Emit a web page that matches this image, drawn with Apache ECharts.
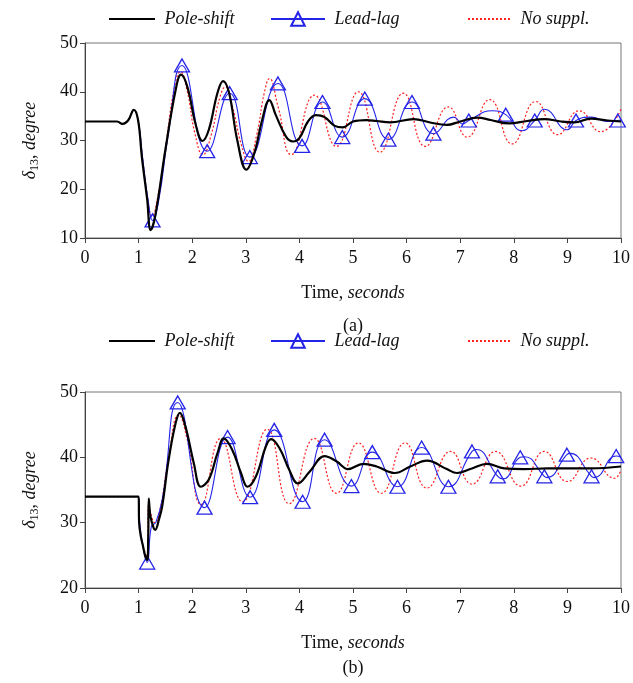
<!DOCTYPE html>
<html><head><meta charset="utf-8">
<script src="https://cdn.jsdelivr.net/npm/echarts@6.0.0/dist/echarts.min.js"></script>
<style>html,body{margin:0;padding:0;background:#fff}#c{width:633px;height:683px}</style>
</head><body><div id="c"></div>
<script>
// ---------- data ----------
const timeRange = [0, 10];
const yRangeA = [10, 50];
const yRangeB = [20, 50];
const seriesNames = ['Pole-shift', 'Lead-lag', 'No suppl.'];
const panelLabels = ['(a)', '(b)'];

// (a) Pole-shift
const poleShiftA = [[0,33.9],[0.6,33.9],[0.7,33.4],[0.81,34.2],[0.91,36.3],[0.99,34.2],[1.06,26.7],[1.16,17.9],[1.225,11.6],[1.31,14.5],[1.5,28.1],[1.69,40.3],[1.79,43.5],[1.91,41],[2.06,33.5],[2.19,29.9],[2.31,32.2],[2.47,39.7],[2.575,42.2],[2.69,39.7],[2.84,30.1],[3.01,24],[3.16,27.4],[3.3,34],[3.44,38.3],[3.56,35.2],[3.75,30.8],[3.88,29.8],[4.0,30.5],[4.16,33.9],[4.31,35.2],[4.47,34.8],[4.66,33],[4.81,32.7],[5.0,33.9],[5.25,34.2],[5.44,34],[5.69,33.7],[6.13,34.4],[6.44,33.7],[6.75,33.2],[7.0,33.9],[7.32,34.7],[7.57,34.2],[7.91,33.5],[8.25,34],[8.57,34.4],[8.88,33.9],[9.13,33.7],[9.44,34.5],[9.75,34.1],[10,33.9]];
// (a) Lead-lag curve (without marker points) and marker points
const leadLagA = [[0,33.9],[0.6,33.9],[0.7,33.4],[0.81,34.2],[0.91,36.3],[0.99,34.2],[1.08,26],[1.18,17.5],[1.38,18],[1.55,31],[6.88,34.8],[7.05,33.4],[7.6,36.1],[8.15,32.0],[8.57,36.4],[9.0,32.2],[9.44,34.8],[9.75,33.9],[10,34.2]];
const leadLagMarksA = [[1.26,13.6],[1.81,45.4],[2.28,27.8],[2.7,39.7],[3.075,26.6],[3.6,41.7],[4.05,28.9],[4.43,37.9],[4.8,30.7],[5.22,38.6],[5.66,30.2],[6.1,37.9],[6.5,31.4],[7.16,34.1],[7.85,35.3],[8.39,34.1],[9.16,34.1],[9.94,34.1]];
// (a) No suppl.
const noSupplA = [[0,33.9],[0.6,33.9],[0.7,33.4],[0.81,34.2],[0.91,36.3],[0.99,34.2],[1.07,26.5],[1.17,18],[1.25,14.5],[1.35,18],[1.5,28.5],[1.67,41],[1.78,44.1],[1.9,40.5],[2.05,31.5],[2.2,27.1],[2.35,31],[2.52,39],[2.62,41],[2.75,37],[2.92,29],[3.05,25.7],[3.2,31],[3.35,40],[3.44,42.7],[3.6,37],[3.85,27.1],[4.28,39.3],[4.69,28.8],[5.1,40],[5.5,27.6],[5.94,39.7],[6.35,28.8],[6.78,36.9],[7.13,30.7],[7.55,38.4],[7.97,29.3],[8.41,38],[8.82,31.2],[9.22,36.1],[9.62,31.8],[10,36.4]];

// (b) Pole-shift
const poleShiftB = [[0,34],[1.0,34],[1.01,30],[1.04,28],[1.08,26.5],[1.12,25],[1.16,24.3],[1.18,28],[1.19,33.7],[1.22,31],[1.28,29.2],[1.31,28.9],[1.38,30.5],[1.44,32.5],[1.56,39.6],[1.69,45.2],[1.77,46.8],[1.875,44.7],[2.03,39.1],[2.16,35.5],[2.31,36.6],[2.47,40.6],[2.59,42.9],[2.75,41.1],[2.91,37.6],[3.03,35.5],[3.19,37.1],[3.375,41.7],[3.47,42.8],[3.63,41.4],[3.81,38.1],[3.97,36],[4.19,37.8],[4.47,40.2],[4.69,39.4],[4.91,38.2],[5.19,39],[5.44,38.6],[5.78,37.6],[6.07,38.6],[6.38,39.5],[6.75,38.2],[6.94,37.6],[7.22,38.3],[7.5,39],[7.82,38.3],[8.19,38.2],[8.63,38.3],[9.07,38.3],[9.44,38.3],[10,38.6]];
// (b) Lead-lag curve and marker points
const leadLagB = [[0,34],[1.0,34],[1.02,30],[1.1,25.5],[1.24,29.5],[1.32,30],[1.45,34],[7.3,41.2],[7.8,36.7],[8.2,40.1],[8.62,36.9],[9.05,40.6],[9.5,36.9],[10,40]];
const leadLagMarksB = [[1.16,23.9],[1.73,48.4],[2.23,32.3],[2.66,43.1],[3.08,33.9],[3.53,44.2],[4.06,33.2],[4.47,42.7],[4.97,35.6],[5.36,40.8],[5.83,35.5],[6.28,41.5],[6.78,35.5],[7.22,40.9],[7.7,37.1],[8.12,40],[8.57,37.1],[8.99,40.4],[9.45,37.1],[9.91,40.2]];
// (b) No suppl.
const noSupplB = [[0,34],[1.0,34],[1.01,30],[1.08,26.5],[1.16,24.8],[1.19,33],[1.24,31],[1.3,30],[1.4,32],[1.55,39.5],[1.75,46.5],[1.9,43],[2.17,32.8],[2.53,42.9],[2.94,33.2],[3.4,44.3],[3.81,32.9],[4.28,42.9],[4.69,34.5],[5.1,42.2],[5.53,34.5],[5.97,42.2],[6.38,35.3],[6.82,40.9],[7.22,35.9],[7.66,40.9],[8.13,35.6],[8.57,40.9],[9.0,36.3],[9.44,39.9],[9.88,36.8],[10,38.1]];

// ---------- chart ----------
const FONT = "'Liberation Serif', 'Times New Roman', serif";
const BLUE = '#2424e8', RED = '#ff2020', BLACK = '#000000';

function blueData(curve, marks) {
  const pts = curve.map(p => ({ value: p, symbol: 'none' }))
    .concat(marks.map(p => ({ value: p })));
  pts.sort((a, b) => a.value[0] - b.value[0]);
  return pts;
}

const gridTops = [43, 392];
const gridHeights = [195, 196];
const yRanges = [yRangeA, yRangeB];

const grids = gridTops.map((t, i) => ({
  left: 85, right: 11, top: t, height: gridHeights[i],
  show: true, borderColor: '#777', borderWidth: 1, backgroundColor: 'transparent'
}));

const xNameGaps = [46, 46];
const xAxes = [0, 1].map(i => ({
  gridIndex: i, type: 'value', min: timeRange[0], max: timeRange[1], interval: 1,
  name: '{n|Time, }{i|seconds}', nameLocation: 'middle', nameGap: xNameGaps[i],
  nameTextStyle: { rich: {
    n: { fontFamily: FONT, fontSize: 18, color: '#111' },
    i: { fontFamily: FONT, fontSize: 18, fontStyle: 'italic', color: '#111' } } },
  axisLine: { lineStyle: { color: '#444', width: 1 } },
  axisTick: { show: true, length: 5, lineStyle: { color: '#444' } },
  axisLabel: { fontFamily: FONT, fontSize: 18, color: '#111', margin: 11 },
  splitLine: { show: false }
}));

const yAxes = [0, 1].map(i => ({
  gridIndex: i, type: 'value', min: yRanges[i][0], max: yRanges[i][1], interval: 10,
  name: '{i|δ}{s|13}{n|, }{i|degree}', nameLocation: 'middle', nameRotate: 90, nameGap: 44,
  nameTextStyle: { rich: {
    n: { fontFamily: FONT, fontSize: 18, color: '#111', lineHeight: 22 },
    i: { fontFamily: FONT, fontSize: 18, fontStyle: 'italic', color: '#111', lineHeight: 22 },
    s: { fontFamily: FONT, fontSize: 12, color: '#111', lineHeight: 22, verticalAlign: 'bottom', padding: [8, 0, 0, 0] } } },
  axisLine: { show: true, lineStyle: { color: '#444', width: 1 } },
  axisTick: { show: true, length: 5, lineStyle: { color: '#444' } },
  axisLabel: { fontFamily: FONT, fontSize: 18, color: '#111', margin: 7 },
  splitLine: { show: false }
}));

function panelSeries(i, pole, lead, leadMarks, nosup) {
  return [
    { name: seriesNames[2], type: 'line', xAxisIndex: i, yAxisIndex: i, data: nosup,
      smooth: 0.5, symbol: 'none', lineStyle: { color: RED, width: 1.2, type: [2, 2] },
      itemStyle: { color: RED }, z: 2 },
    { name: seriesNames[1], type: 'line', xAxisIndex: i, yAxisIndex: i, data: blueData(lead, leadMarks),
      smooth: 0.5, symbol: 'triangle', symbolSize: [15, 13], showSymbol: true, showAllSymbol: true,
      lineStyle: { color: BLUE, width: 1.1 },
      itemStyle: { color: 'rgba(255,255,255,0)', borderColor: BLUE, borderWidth: 1.3 }, z: 3 },
    { name: seriesNames[0], type: 'line', xAxisIndex: i, yAxisIndex: i, data: pole,
      smooth: 0.4, symbol: 'none', lineStyle: { color: BLACK, width: 2.2 },
      itemStyle: { color: BLACK }, z: 4 }
  ];
}

const legendLefts = [108, 270, 467];
const legendWidths = [46, 54, 43];
const legendHeights = [13, 17, 13];
const legendTops = [10, 332];
const legends = [];
legendTops.forEach(top => {
  seriesNames.forEach((nm, k) => {
    const lg = {
      data: [nm], left: legendLefts[k], top: top, padding: 0,
      itemWidth: legendWidths[k], itemHeight: legendHeights[k], formatter: ' {name}',
      selectedMode: false,
      textStyle: { fontFamily: FONT, fontSize: 18, fontStyle: 'italic', color: '#111' }
    };
    if (k !== 1) lg.itemStyle = { opacity: 0 };
    legends.push(lg);
  });
});

const chart = echarts.init(document.getElementById('c'), null, { renderer: 'canvas' });
chart.setOption({
  animation: false,
  backgroundColor: '#fff',
  grid: grids,
  xAxis: xAxes,
  yAxis: yAxes,
  legend: legends,
  graphic: [
    { type: 'text', x: 353, y: 326, style: { text: panelLabels[0], font: '18px ' + FONT, fill: '#111', textAlign: 'center', textVerticalAlign: 'middle' } },
    { type: 'text', x: 353, y: 668, style: { text: panelLabels[1], font: '18px ' + FONT, fill: '#111', textAlign: 'center', textVerticalAlign: 'middle' } }
  ],
  series: panelSeries(0, poleShiftA, leadLagA, leadLagMarksA, noSupplA)
    .concat(panelSeries(1, poleShiftB, leadLagB, leadLagMarksB, noSupplB))
});
</script>
</body></html>
